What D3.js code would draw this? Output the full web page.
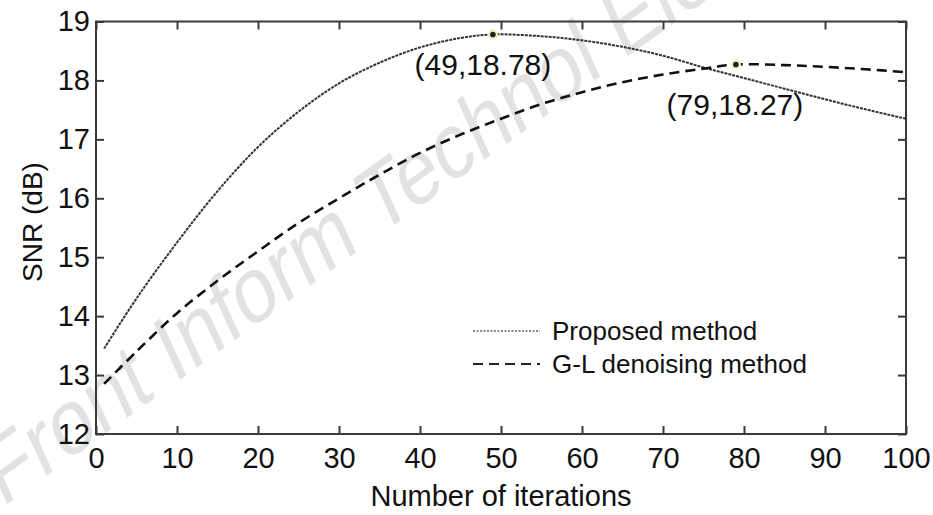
<!DOCTYPE html>
<html>
<head>
<meta charset="utf-8">
<script src="https://cdn.jsdelivr.net/npm/d3@7"></script>
<style>
  html, body { margin: 0; padding: 0; background: #fff; }
  svg { display: block; font-family: "Liberation Sans", Arial, sans-serif; }
</style>
</head>
<body>
<svg id="chart" width="933" height="515"></svg>
<script>
// ---- data ----
const iterations = [1, 5, 10, 15, 20, 25, 30, 35, 40, 45, 49, 55, 60, 65, 70, 75, 80, 85, 90, 95, 100];
const proposedSNR = [13.45, 14.3, 15.25, 16.12, 16.87, 17.47, 17.95, 18.3, 18.56, 18.72, 18.78, 18.75, 18.68, 18.57, 18.42, 18.22, 18.04, 17.86, 17.68, 17.51, 17.35];
const glIterations = [1, 5, 10, 15, 20, 25, 30, 35, 40, 45, 50, 55, 60, 65, 70, 75, 79, 85, 90, 95, 100];
const glSNR = [12.85, 13.4, 14.05, 14.6, 15.1, 15.58, 16.0, 16.4, 16.77, 17.08, 17.35, 17.6, 17.8, 17.97, 18.1, 18.2, 18.27, 18.26, 18.23, 18.19, 18.14];
const xTicks = [0, 10, 20, 30, 40, 50, 60, 70, 80, 90, 100];
const yTicks = [12, 13, 14, 15, 16, 17, 18, 19];
const seriesNames = ["Proposed method", "G-L denoising method"];
const annotations = [
  { x: 49, y: 18.78, label: "(49,18.78)", dx: -10, dy: 41 },
  { x: 79, y: 18.27, label: "(79,18.27)", dx: -1, dy: 50 }
];
const xTitle = "Number of iterations";
const yTitle = "SNR (dB)";
const watermark = "Front Inform Technol Electron Eng";

// ---- layout ----
const svg = d3.select("#chart");
const L = 96, R = 906, T = 21.5, B = 434;
const x = d3.scaleLinear().domain([0, 100]).range([L, R]);
const y = d3.scaleLinear().domain([12, 19]).range([B, T]);
const axisColor = "#3a3a3a";
const fmt = d3.format("d");

// watermark (behind)
svg.append("text")
  .attr("transform", "translate(2,508) scale(1,1.25) rotate(-30)")
  .attr("font-size", 76)
  .attr("fill", "#e2e2e2")
  .text(watermark);

// axes
function styleAxis(g) {
  g.select(".domain").remove();
  g.selectAll(".tick line").attr("stroke", axisColor).attr("stroke-width", 2);
  g.selectAll(".tick text").attr("fill", "#111").attr("font-size", 29)
    .attr("font-family", "Liberation Sans, Arial, sans-serif");
}
svg.append("g").attr("transform", `translate(0,${B})`)
  .call(d3.axisBottom(x).tickValues(xTicks).tickFormat(fmt).tickSizeInner(-8).tickSizeOuter(0).tickPadding(13))
  .call(styleAxis);
svg.append("g").attr("transform", `translate(0,${T})`)
  .call(d3.axisTop(x).tickValues(xTicks).tickSizeInner(-8).tickSizeOuter(0).tickFormat(""))
  .call(styleAxis);
svg.append("g").attr("transform", `translate(${L},0)`)
  .call(d3.axisLeft(y).tickValues(yTicks).tickFormat(fmt).tickSizeInner(-8).tickSizeOuter(0).tickPadding(6))
  .call(styleAxis);
svg.append("g").attr("transform", `translate(${R},0)`)
  .call(d3.axisRight(y).tickValues(yTicks).tickSizeInner(-8).tickSizeOuter(0).tickFormat(""))
  .call(styleAxis);

// frame
svg.append("rect")
  .attr("x", x(0)).attr("y", y(19))
  .attr("width", x(100) - x(0)).attr("height", y(12) - y(19))
  .attr("fill", "none").attr("stroke", axisColor).attr("stroke-width", 2);

// lines
const line = d3.line().x(d => x(d[0])).y(d => y(d[1])).curve(d3.curveCatmullRom.alpha(0.5));
svg.append("path")
  .datum(iterations.map((it, i) => [it, proposedSNR[i]]))
  .attr("d", line)
  .attr("fill", "none").attr("stroke", "#333").attr("stroke-width", 2)
  .attr("stroke-dasharray", "3,1");
svg.append("path")
  .datum(glIterations.map((it, i) => [it, glSNR[i]]))
  .attr("d", line)
  .attr("fill", "none").attr("stroke", "#111").attr("stroke-width", 2.6)
  .attr("stroke-dasharray", "10,6");

// annotation markers and labels
annotations.forEach(a => {
  svg.append("circle").attr("cx", x(a.x)).attr("cy", y(a.y)).attr("r", 5)
    .attr("fill", "#f2f2c0");
  svg.append("circle").attr("cx", x(a.x)).attr("cy", y(a.y)).attr("r", 2.8)
    .attr("fill", "#222");
  svg.append("text")
    .attr("x", x(a.x) + a.dx).attr("y", y(a.y) + a.dy)
    .attr("text-anchor", "middle").attr("font-size", 30).attr("fill", "#111")
    .text(a.label);
});

// axis titles
svg.append("text")
  .attr("x", (L + R) / 2).attr("y", 506)
  .attr("text-anchor", "middle").attr("font-size", 29).attr("fill", "#111")
  .text(xTitle);
svg.append("text")
  .attr("transform", `translate(42,${222}) rotate(-90)`)
  .attr("text-anchor", "middle").attr("font-size", 28).attr("fill", "#111")
  .text(yTitle);

// legend
const legendStyles = [
  { stroke: "#888", width: 2, dash: "2,1.5" },
  { stroke: "#222", width: 2, dash: "10,6" }
];
seriesNames.forEach((name, i) => {
  const ly = 331 + i * 33;
  svg.append("line").attr("x1", 473).attr("x2", 540).attr("y1", ly).attr("y2", ly)
    .attr("stroke", legendStyles[i].stroke).attr("stroke-width", legendStyles[i].width)
    .attr("stroke-dasharray", legendStyles[i].dash);
  svg.append("text").attr("x", 552).attr("y", ly).attr("dy", "0.35em")
    .attr("font-size", 26).attr("fill", "#111").text(name);
});
</script>
</body>
</html>
